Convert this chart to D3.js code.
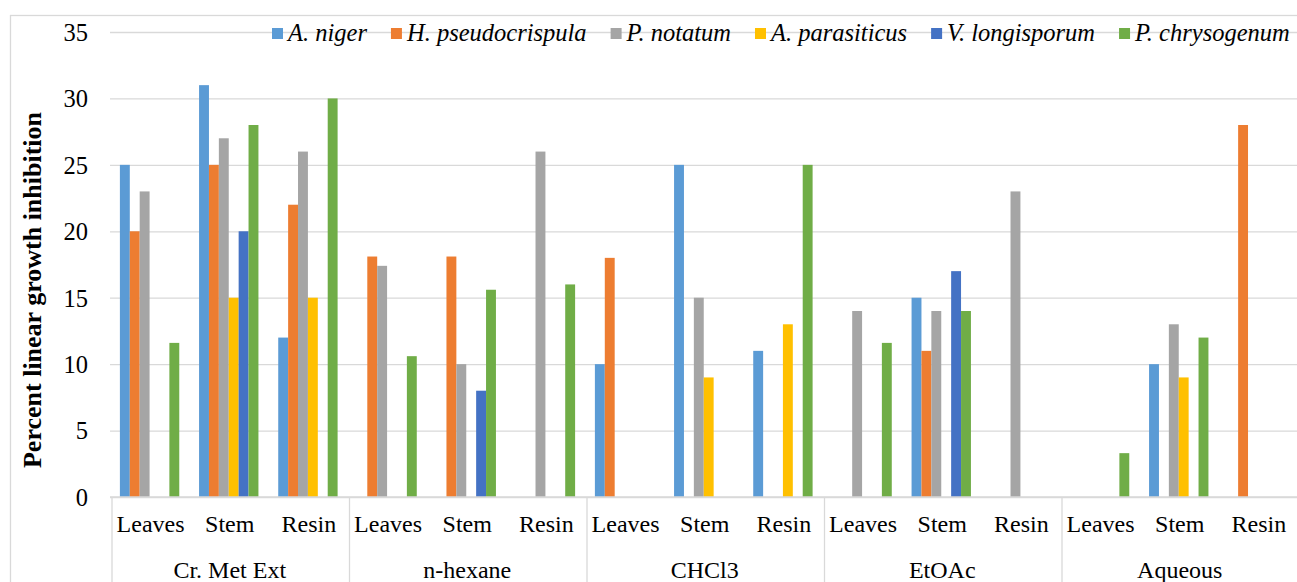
<!DOCTYPE html>
<html>
<head>
<meta charset="utf-8">
<script src="https://cdn.jsdelivr.net/npm/d3@7"></script>
<style>
  body { margin: 0; background: #fff; }
</style>
</head>
<body>
<div class="container"></div>
<script>
// extracts and plant parts (two level category axis)
var extracts = ["Cr. Met Ext", "n-hexane", "CHCl3", "EtOAc", "Aqueous"];
var parts = ["Leaves", "Stem", "Resin"];

var seriesNames = ["A. niger", "H. pseudocrispula", "P. notatum", "A. parasiticus", "V. longisporum", "P. chrysogenum"];
var seriesColors = ["#5B9BD5", "#ED7D31", "#A5A5A5", "#FFC000", "#4472C4", "#70AD47"];

// values in order: extract x part (15 per series)
var aNiger          = [25, 31, 12,   0, 0, 0,        10, 25, 11,  0, 15, 0,     0, 10, 0];
var hPseudocrispula = [20, 25, 22,   18.1, 18.1, 0,  18, 0, 0,    0, 11, 0,     0, 0, 28];
var pNotatum        = [23, 27, 26,   17.4, 10, 26,   0, 15, 0,    14, 14, 23,   0, 13, 0];
var aParasiticus    = [0, 15, 15,    0, 0, 0,        0, 9, 13,    0, 0, 0,      0, 9, 0];
var vLongisporum    = [0, 20, 0,     0, 8, 0,        0, 0, 0,     0, 17, 0,     0, 0, 0];
var pChrysogenum    = [11.6, 28, 30, 10.6, 15.6, 16, 0, 0, 25,    11.6, 14, 0,  3.3, 12, 0];

var yTicks = [0, 5, 10, 15, 20, 25, 30, 35];

var seriesValues = [aNiger, hPseudocrispula, pNotatum, aParasiticus, vLongisporum, pChrysogenum];

var w = 1297, h = 582;
var plotLeft = 110, plotRight = 1297.5, plotTop = 32, plotBottom = 497;

var svg = d3.select(".container")
    .append("svg")
    .attr("width", w)
    .attr("height", h)
    .attr("font-family", "'Liberation Serif', 'Times New Roman', serif")
    .style("display", "block");

// chart border
svg.append("rect")
    .attr("x", 10.5).attr("y", 15.5)
    .attr("width", w + 20).attr("height", h + 20)
    .attr("fill", "none")
    .attr("stroke", "#D9D9D9")
    .attr("stroke-width", 1.3);

var keys = [];
extracts.forEach(function (e) {
    parts.forEach(function (p) { keys.push(e + "|" + p); });
});

var x0 = d3.scaleBand().domain(keys).range([plotLeft, plotRight]).padding(0);
var x1 = d3.scaleBand().domain(seriesNames).range([0, x0.bandwidth()]).paddingInner(0).paddingOuter(1);
var xGroup = d3.scaleBand().domain(extracts).range([plotLeft, plotRight]).padding(0);

var y = d3.scaleLinear().domain([0, 35]).range([plotBottom, plotTop]);

// gridlines
var grid = svg.append("g")
    .attr("class", "grid")
    .attr("transform", "translate(" + plotLeft + ",0)")
    .call(d3.axisLeft(y).tickValues(yTicks).tickSize(-(plotRight - plotLeft)).tickFormat(""));
grid.select(".domain").remove();
grid.selectAll("line").attr("stroke", "#D9D9D9").attr("stroke-width", 1.3);

// y tick labels
var yAxisGroup = svg.append("g")
    .attr("class", "yaxis")
    .attr("transform", "translate(" + plotLeft + ",0)")
    .call(d3.axisLeft(y).tickValues(yTicks).tickSize(0).tickPadding(22));
yAxisGroup.select(".domain").remove();
yAxisGroup.selectAll("text")
    .attr("font-family", "'Liberation Serif', serif")
    .attr("font-size", "24.5px")
    .attr("fill", "#000")
    .attr("dy", "0.34em");

// bars
var rows = [];
keys.forEach(function (k, i) {
    seriesNames.forEach(function (s, j) {
        rows.push({ key: k, series: s, color: seriesColors[j], value: seriesValues[j][i] });
    });
});

svg.selectAll("rect.bar")
    .data(rows.filter(function (d) { return d.value > 0; }))
    .enter()
    .append("rect")
    .attr("class", "bar")
    .attr("x", function (d) { return x0(d.key) + x1(d.series); })
    .attr("y", function (d) { return y(d.value); })
    .attr("width", x1.bandwidth())
    .attr("height", function (d) { return y(0) - y(d.value); })
    .attr("fill", function (d) { return d.color; });

// category axis
svg.append("line")
    .attr("x1", plotLeft).attr("x2", plotRight)
    .attr("y1", y(0)).attr("y2", y(0))
    .attr("stroke", "#D9D9D9").attr("stroke-width", 1.3);

var bounds = extracts.map(function (e) { return xGroup(e); }).concat([plotRight]);
svg.selectAll("line.sep")
    .data(bounds)
    .enter()
    .append("line")
    .attr("class", "sep")
    .attr("x1", function (d) { return d + 2; })
    .attr("x2", function (d) { return d + 2; })
    .attr("y1", y(0))
    .attr("y2", h + 10)
    .attr("stroke", "#D9D9D9")
    .attr("stroke-width", 1.3);

svg.selectAll("text.part")
    .data(keys)
    .enter()
    .append("text")
    .attr("class", "part")
    .attr("x", function (d) { return x0(d) + x0.bandwidth() / 2 + 1; })
    .attr("y", 532)
    .attr("text-anchor", "middle")
    .attr("font-size", "24px")
    .text(function (d) { return d.split("|")[1]; });

svg.selectAll("text.extract")
    .data(extracts)
    .enter()
    .append("text")
    .attr("class", "extract")
    .attr("x", function (d) { return xGroup(d) + xGroup.bandwidth() / 2 + 1; })
    .attr("y", 578)
    .attr("text-anchor", "middle")
    .attr("font-size", "24px")
    .text(function (d) { return d; });

// y title
svg.append("text")
    .attr("text-anchor", "middle")
    .attr("transform", "translate(41,290)rotate(-90)")
    .attr("font-weight", "bold")
    .attr("font-size", "26px")
    .text("Percent linear growth inhibition");

// legend
var legend = svg.append("g").attr("class", "legend");
var lx = 272;
seriesNames.forEach(function (s, j) {
    legend.append("rect")
        .attr("x", lx).attr("y", 28)
        .attr("width", 11).attr("height", 11)
        .attr("fill", seriesColors[j]);
    var t = legend.append("text")
        .attr("x", lx + 16)
        .attr("y", 41)
        .attr("font-style", "italic")
        .attr("font-size", "24.5px")
        .text(s);
    lx += 16 + t.node().getComputedTextLength() + 24;
});
</script>
</body>
</html>
